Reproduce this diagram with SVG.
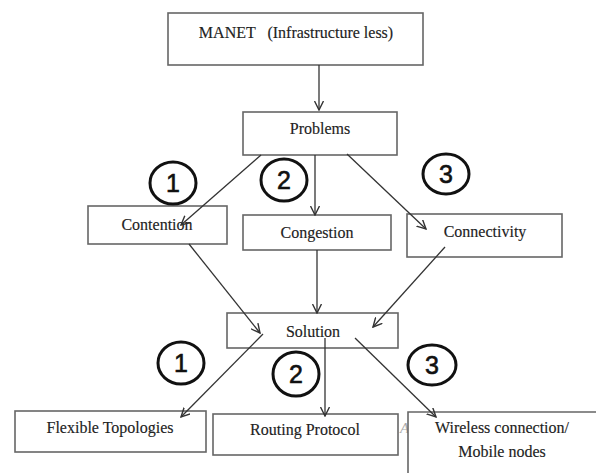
<svg xmlns="http://www.w3.org/2000/svg" width="596" height="473" viewBox="0 0 596 473">
<defs>
<marker id="arr" viewBox="0 0 10 10" refX="9" refY="5" markerWidth="10" markerHeight="10" markerUnits="userSpaceOnUse" orient="auto">
<path d="M0,0.5 L9,5 L0,9.5" fill="none" stroke="#333" stroke-width="1.4"/>
</marker>
</defs>
<style>
.box{fill:#fff;stroke:#666;stroke-width:1.6}
.t{font-family:"Liberation Serif","Times New Roman",serif;font-size:16px;fill:#222;stroke:#222;stroke-width:0.15;text-anchor:middle}
.c{fill:none;stroke:#111;stroke-width:3}
.n{font-family:"Liberation Sans",Arial,sans-serif;font-size:25px;fill:#111;stroke:#111;stroke-width:0.6;text-anchor:middle}
.e{fill:none;stroke:#333;stroke-width:1.3;marker-end:url(#arr)}
</style>
<rect width="596" height="473" fill="#fff"/>
<g id="manet"><rect class="box" x="168" y="13" width="255" height="52"/><text class="t" x="296" y="38" xml:space="preserve">MANET   (Infrastructure less)</text></g>
<g id="problems"><rect class="box" x="243" y="112" width="154" height="43"/><text class="t" x="320" y="134">Problems</text></g>
<g id="contention"><rect class="box" x="88" y="206" width="139" height="38"/><text class="t" x="157" y="230">Contention</text></g>
<g id="congestion"><rect class="box" x="243" y="215" width="148" height="35"/><text class="t" x="317" y="238">Congestion</text></g>
<g id="connectivity"><rect class="box" x="407" y="214" width="155" height="43"/><text class="t" x="485" y="237">Connectivity</text></g>
<g id="solution"><rect class="box" x="227" y="313" width="171" height="35"/><text class="t" x="313" y="337">Solution</text></g>
<g id="flexible"><rect class="box" x="15" y="411" width="191" height="41"/><text class="t" x="110" y="433">Flexible Topologies</text></g>
<g id="routing"><rect class="box" x="213" y="414" width="185" height="41"/><text class="t" x="305" y="435">Routing Protocol</text></g>
<text x="400" y="433" font-family="Liberation Serif, serif" font-size="15" font-style="italic" fill="#aaa">A</text>
<g id="wireless"><rect x="408" y="412" width="190" height="64" fill="#fff"/><path d="M408,475 V412 H596" fill="none" stroke="#666" stroke-width="1.6"/><text class="t" x="502" y="433">Wireless connection/</text><text class="t" x="502" y="457">Mobile nodes</text></g>
<g id="badges">
<ellipse class="c" cx="173" cy="183" rx="23" ry="21"/><text class="n" x="173" y="192">1</text>
<ellipse class="c" cx="284" cy="180" rx="23" ry="21"/><text class="n" x="284" y="189">2</text>
<ellipse class="c" cx="446" cy="174" rx="23" ry="20"/><text class="n" x="446" y="183">3</text>
<ellipse class="c" cx="181" cy="363" rx="23" ry="21"/><text class="n" x="181" y="372">1</text>
<ellipse class="c" cx="296" cy="374" rx="23" ry="22"/><text class="n" x="296" y="383">2</text>
<ellipse class="c" cx="432" cy="365" rx="24" ry="20"/><text class="n" x="432" y="374">3</text>
</g>
<g id="connectors">
<line class="e" x1="319" y1="65" x2="319" y2="110"/>
<line class="e" x1="261" y1="155" x2="181" y2="225"/>
<line class="e" x1="315" y1="155" x2="315" y2="215"/>
<line class="e" x1="347" y1="154" x2="426" y2="229"/>
<line class="e" x1="189" y1="244" x2="260" y2="333"/>
<line class="e" x1="317" y1="250" x2="317" y2="313"/>
<line class="e" x1="445" y1="247" x2="373" y2="327"/>
<line class="e" x1="263" y1="334" x2="181" y2="417"/>
<line class="e" x1="325" y1="338" x2="325" y2="416"/>
<line class="e" x1="355" y1="338" x2="436" y2="417"/>
</g>
</svg>
